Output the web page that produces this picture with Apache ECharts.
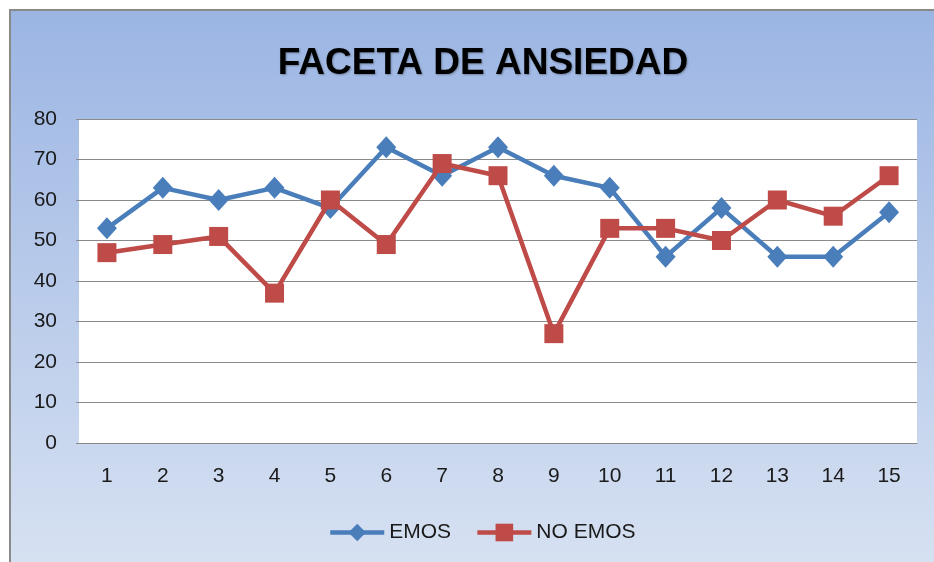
<!DOCTYPE html>
<html>
<head>
<meta charset="utf-8">
<script src="https://cdn.jsdelivr.net/npm/echarts@6/dist/echarts.min.js"></script>
<style>
html,body{margin:0;padding:0;background:#fff;}
#chart{width:934px;height:562px;}
</style>
</head>
<body>
<div id="chart"></div>
<script>
var categories = ['1','2','3','4','5','6','7','8','9','10','11','12','13','14','15'];
var emos = [53, 63, 60, 63, 58, 73, 66, 73, 66, 63, 46, 58, 46, 46, 57];
var noEmos = [47, 49, 51, 37, 60, 49, 69, 66, 27, 53, 53, 50, 60, 56, 66];
var yTicks = {min: 0, max: 80, interval: 10};
var titleText = 'FACETA DE ANSIEDAD';
var seriesNames = ['EMOS', 'NO EMOS'];

var chart = echarts.init(document.getElementById('chart'));
var font = '"Liberation Sans", Arial, sans-serif';
chart.setOption({
  backgroundColor: '#fff',
  animation: false,
  graphic: [{
    type: 'rect',
    z: -10,
    silent: true,
    shape: {x: 10, y: 10, width: 940, height: 570},
    style: {
      fill: new echarts.graphic.LinearGradient(0, 0, 0, 1, [
        {offset: 0, color: '#9bb5e3'},
        {offset: 1, color: '#d8e2f2'}
      ]),
      stroke: '#8a8a8a',
      lineWidth: 2
    }
  }],
  title: {
    text: titleText,
    left: 478,
    top: 40,
    textAlign: 'center',
    textStyle: {
      fontFamily: font,
      fontWeight: 'bold',
      fontSize: 37,
      color: '#000',
      textShadowColor: 'rgba(0,0,0,0.3)',
      textShadowBlur: 2,
      textShadowOffsetX: 1,
      textShadowOffsetY: 1
    }
  },
  legend: {
    data: seriesNames,
    left: 328,
    top: 522,
    padding: 0,
    itemWidth: 54,
    itemHeight: 22,
    itemGap: 24,
    lineStyle: {width: 4.5},
    textStyle: {fontFamily: font, fontSize: 21, color: '#1a1a1a'}
  },
  grid: {
    left: 79, right: 17, top: 119, bottom: 119,
    show: true, backgroundColor: '#ffffff', borderWidth: 0,
    containLabel: false
  },
  xAxis: {
    type: 'category',
    data: categories,
    boundaryGap: true,
    axisLine: {show: true, lineStyle: {color: '#8a8a8a', width: 1}},
    axisTick: {show: false},
    axisLabel: {fontFamily: font, fontSize: 21, color: '#1a1a1a', margin: 23}
  },
  yAxis: {
    type: 'value',
    min: yTicks.min, max: yTicks.max, interval: yTicks.interval,
    axisLine: {show: false},
    axisTick: {show: true, length: 3, lineStyle: {color: '#8a8a8a'}},
    splitLine: {show: true, lineStyle: {color: '#8a8a8a', width: 1}},
    axisLabel: {fontFamily: font, fontSize: 21, color: '#1a1a1a', margin: 22}
  },
  series: [{
    name: seriesNames[0],
    type: 'line',
    data: emos,
    symbol: 'diamond',
    symbolSize: [20, 22],
    lineStyle: {color: '#4a7ebb', width: 4.5},
    itemStyle: {color: '#4a7ebb'},
    z: 2
  }, {
    name: seriesNames[1],
    type: 'line',
    data: noEmos,
    symbol: 'rect',
    symbolSize: 19,
    lineStyle: {color: '#be4b48', width: 4.5},
    itemStyle: {color: '#be4b48'},
    z: 3
  }]
});
</script>
</body>
</html>
